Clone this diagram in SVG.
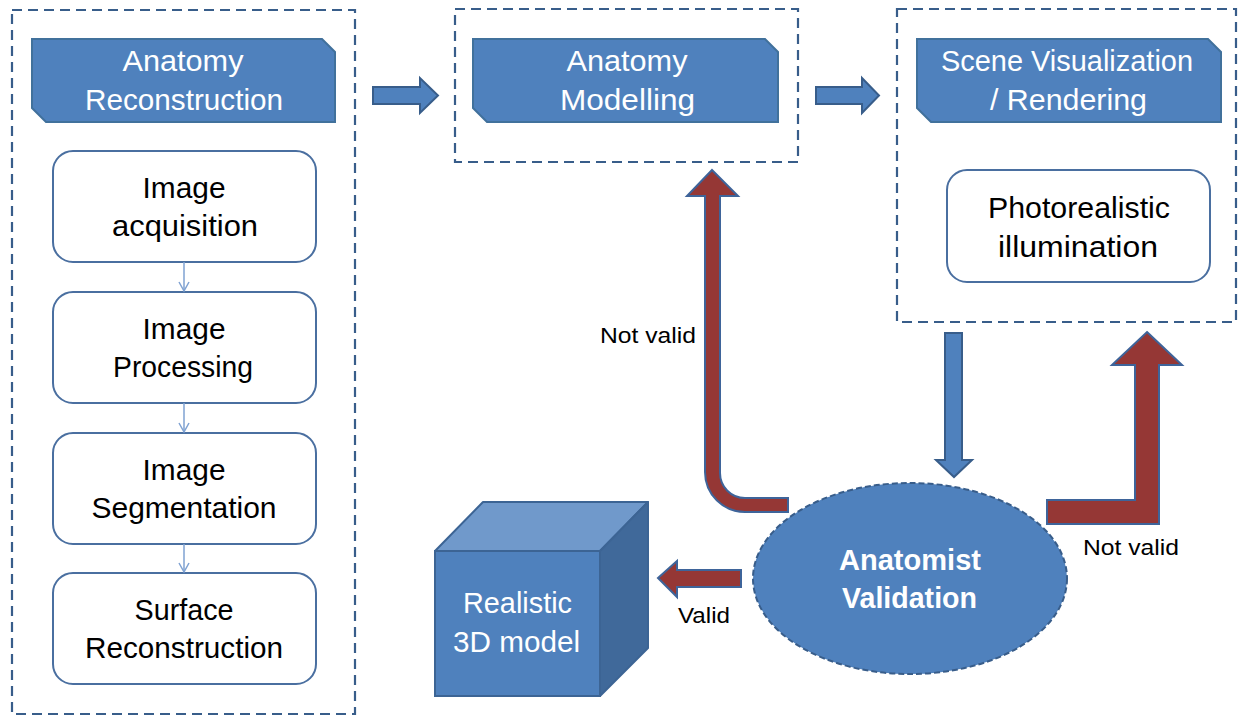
<svg xmlns="http://www.w3.org/2000/svg" width="1239" height="715" viewBox="0 0 1239 715">
  <defs>
    <style>
      .frame { fill: none; stroke: #385D8A; stroke-width: 2.2; stroke-dasharray: 10 6; }
      .header { fill: #4F81BD; stroke: #41719C; stroke-width: 2; }
      .step { fill: #FFFFFF; stroke: #4A6FA0; stroke-width: 2; }
      .hdr-txt { font-family: "Liberation Sans", Arial, sans-serif; font-size: 29px; fill: #FFFFFF; text-anchor: middle; }
      .step-txt { font-family: "Liberation Sans", Arial, sans-serif; font-size: 29px; fill: #000000; text-anchor: middle; }
      .lbl { font-family: "Liberation Sans", Arial, sans-serif; font-size: 22px; fill: #000000; }
      .blue-arrow { fill: #4F81BD; stroke: #385D8A; stroke-width: 2; stroke-linejoin: miter; }
      .red-arrow { fill: #953735; stroke: #3E649A; stroke-width: 2; stroke-linejoin: miter; }
      .thin { fill: none; stroke: #7FA2D2; stroke-width: 1.5; }
    </style>
    <marker id="vee" viewBox="0 0 12 12" refX="10" refY="6" markerWidth="12" markerHeight="12" markerUnits="userSpaceOnUse" orient="auto">
      <path d="M1,1 L10,6 L1,11" fill="none" stroke="#7FA2D2" stroke-width="1.5"/>
    </marker>
  </defs>

  <rect width="1239" height="715" fill="#FFFFFF"/>

  <!-- Stage 1: anatomy reconstruction -->
  <g id="reconstruction">
    <rect class="frame" x="12" y="10" width="343" height="704"/>
    <path class="header" d="M32,39 H322 L335,52 V122 H46 L32,108 Z"/>
    <text class="hdr-txt" x="183" y="71" textLength="121" lengthAdjust="spacingAndGlyphs">Anatomy</text>
    <text class="hdr-txt" x="184" y="110" textLength="198" lengthAdjust="spacingAndGlyphs">Reconstruction</text>
  </g>

  <g id="acquisition">
    <rect class="step" x="53" y="151" width="263" height="111" rx="20"/>
    <text class="step-txt" x="184" y="198" textLength="83" lengthAdjust="spacingAndGlyphs">Image</text>
    <text class="step-txt" x="185" y="236" textLength="146" lengthAdjust="spacingAndGlyphs">acquisition</text>
  </g>

  <g id="processing">
    <rect class="step" x="53" y="292" width="263" height="111" rx="20"/>
    <text class="step-txt" x="184" y="339" textLength="83" lengthAdjust="spacingAndGlyphs">Image</text>
    <text class="step-txt" x="183" y="377" textLength="140" lengthAdjust="spacingAndGlyphs">Processing</text>
  </g>

  <g id="segmentation">
    <rect class="step" x="53" y="433" width="263" height="111" rx="20"/>
    <text class="step-txt" x="184" y="480" textLength="83" lengthAdjust="spacingAndGlyphs">Image</text>
    <text class="step-txt" x="184" y="518" textLength="185" lengthAdjust="spacingAndGlyphs">Segmentation</text>
  </g>

  <g id="surface">
    <rect class="step" x="53" y="573" width="263" height="111" rx="20"/>
    <text class="step-txt" x="184" y="620" textLength="99" lengthAdjust="spacingAndGlyphs">Surface</text>
    <text class="step-txt" x="184" y="658" textLength="198" lengthAdjust="spacingAndGlyphs">Reconstruction</text>
  </g>

  <!-- Stage 2: anatomy modelling -->
  <g id="modelling">
    <rect class="frame" x="455" y="9" width="343" height="153"/>
    <path class="header" d="M473,39 H765 L778,52 V122 H487 L473,108 Z"/>
    <text class="hdr-txt" x="627" y="71" textLength="121" lengthAdjust="spacingAndGlyphs">Anatomy</text>
    <text class="hdr-txt" x="627.5" y="110" textLength="135" lengthAdjust="spacingAndGlyphs">Modelling</text>
  </g>

  <!-- Stage 3: scene visualization -->
  <g id="rendering">
    <rect class="frame" x="897" y="9" width="339" height="313"/>
    <path class="header" d="M917,39 H1208 L1221,52 V122 H931 L917,108 Z"/>
    <text class="hdr-txt" x="1067" y="71" textLength="252" lengthAdjust="spacingAndGlyphs">Scene Visualization</text>
    <text class="hdr-txt" x="1068.5" y="110" textLength="157" lengthAdjust="spacingAndGlyphs">/ Rendering</text>
  </g>

  <g id="illumination">
    <rect class="step" x="947" y="170" width="263" height="112" rx="20"/>
    <text class="step-txt" x="1079" y="218" textLength="182" lengthAdjust="spacingAndGlyphs">Photorealistic</text>
    <text class="step-txt" x="1078" y="257" textLength="160" lengthAdjust="spacingAndGlyphs">illumination</text>
  </g>

  <!-- Validation step -->
  <g id="validation">
    <ellipse cx="910" cy="578.5" rx="157" ry="95.5" fill="#4F81BD" stroke="#385D8A" stroke-width="2" stroke-dasharray="6 3"/>
    <text class="hdr-txt" x="910" y="570" font-weight="bold" textLength="142" lengthAdjust="spacingAndGlyphs">Anatomist</text>
    <text class="hdr-txt" x="909.5" y="608" font-weight="bold" textLength="135" lengthAdjust="spacingAndGlyphs">Validation</text>
  </g>

  <!-- Final output cube -->
  <g id="model3d">
    <path d="M435,551 L483,502 H648 L600,551 Z" fill="#7099CB" stroke="#3C6494" stroke-width="2" stroke-linejoin="round"/>
    <path d="M600,551 L648,502 V648 L600,696 Z" fill="#40699A" stroke="#3C6494" stroke-width="2" stroke-linejoin="round"/>
    <rect x="435" y="551" width="165" height="145" fill="#4F81BD" stroke="#3C6494" stroke-width="2"/>
    <text class="hdr-txt" x="517.5" y="613" textLength="109" lengthAdjust="spacingAndGlyphs">Realistic</text>
    <text class="hdr-txt" x="516.5" y="652" textLength="127" lengthAdjust="spacingAndGlyphs">3D model</text>
  </g>

  <!-- Connectors -->
  <g id="connectors">
    <line class="thin" x1="184" y1="262" x2="184" y2="291" marker-end="url(#vee)"/>
    <line class="thin" x1="184" y1="403" x2="184" y2="432" marker-end="url(#vee)"/>
    <line class="thin" x1="184" y1="544" x2="184" y2="572" marker-end="url(#vee)"/>

    <path class="blue-arrow" d="M373,87 H420 V78 L438,95.5 L420,113 V104 H373 Z"/>
    <path class="blue-arrow" d="M816,87 H862 V78 L879,95.5 L862,113 V104 H816 Z"/>
    <path class="blue-arrow" d="M945,333 H962 V460 H972 L954,477 L936,460 H945 Z"/>

    <path class="red-arrow" d="M712,170 L738,196 H720 V473 A25,25 0 0 0 745,498 H788 V512 H745 A40,40 0 0 1 705,472 V196 H687 Z"/>
    <path class="red-arrow" d="M1147,332 L1182,365 H1159 V524 H1047 V500 H1135 V365 H1112 Z"/>
    <path class="red-arrow" d="M658,578 L677,561 V570 H741 V587 H677 V597 Z"/>

    <text class="lbl" x="600" y="343" textLength="96" lengthAdjust="spacingAndGlyphs">Not valid</text>
    <text class="lbl" x="1083" y="555" textLength="96" lengthAdjust="spacingAndGlyphs">Not valid</text>
    <text class="lbl" x="678" y="623" textLength="52" lengthAdjust="spacingAndGlyphs">Valid</text>
  </g>
</svg>
